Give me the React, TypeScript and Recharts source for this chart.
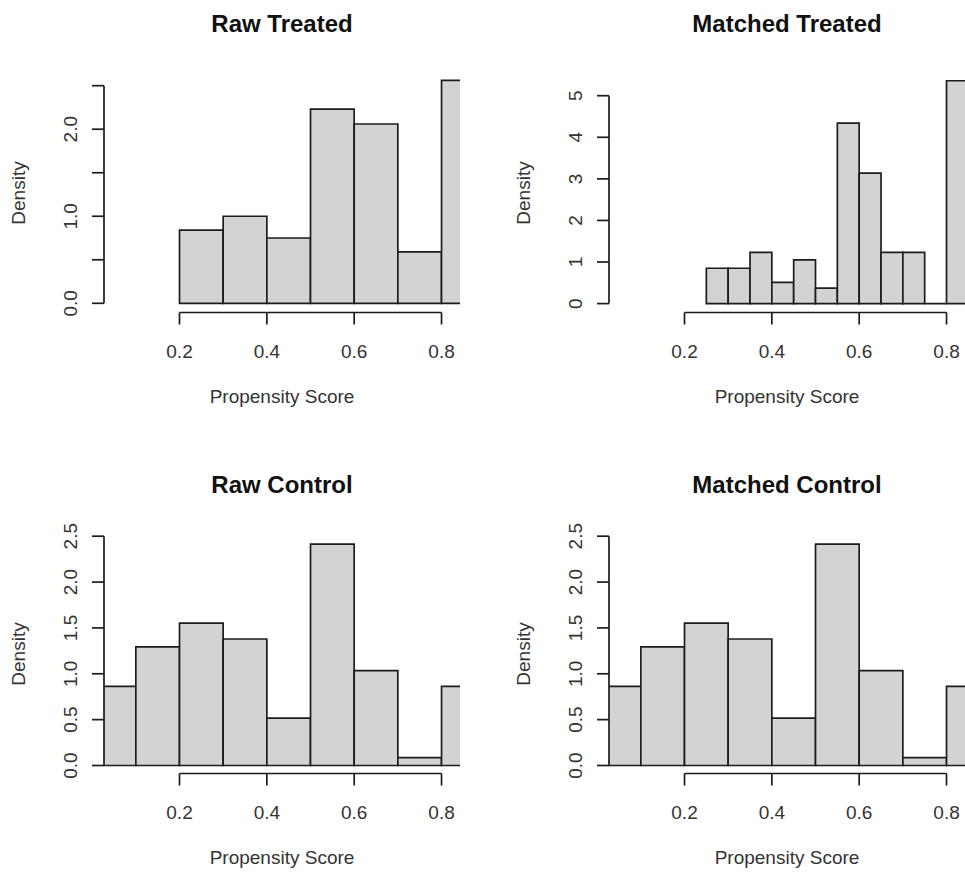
import React from 'react'
import { BarChart, Bar, XAxis, YAxis, ReferenceLine } from 'recharts'

// histogram breaks + densities
const treatedBreaks = [0.2, 0.3, 0.4, 0.5, 0.6, 0.7, 0.8, 0.9]
const rawTreatedDensity = [0.84, 1.0, 0.75, 2.23, 2.06, 0.59, 2.56]

const matchedTreatedBreaks = [0.25, 0.3, 0.35, 0.4, 0.45, 0.5, 0.55, 0.6, 0.65, 0.7, 0.75, 0.8, 0.85]
const matchedTreatedDensity = [0.85, 0.85, 1.23, 0.51, 1.05, 0.37, 4.34, 3.14, 1.23, 1.23, 0, 5.36]

const controlBreaks = [0, 0.1, 0.2, 0.3, 0.4, 0.5, 0.6, 0.7, 0.8, 0.9]
const rawControlDensity = [0.862, 1.293, 1.552, 1.379, 0.517, 2.414, 1.034, 0.086, 0.862]
const matchedControlDensity = [0.862, 1.293, 1.552, 1.379, 0.517, 2.414, 1.034, 0.086, 0.862]

const scoreTicks = [0.2, 0.4, 0.6, 0.8]
const scoreTickLabels = ['0.2', '0.4', '0.6', '0.8']
const densityTicks = [0, 0.5, 1, 1.5, 2, 2.5]
const rawTreatedLabels = ['0.0', '', '1.0', '', '2.0', '']
const controlLabels = ['0.0', '0.5', '1.0', '1.5', '2.0', '2.5']
const matchedTreatedTicks = [0, 1, 2, 3, 4, 5]
const matchedTreatedLabels = ['0', '1', '2', '3', '4', '5']

// layout (R-ish mfrow 2x2)
const W = 480
const H = 436
const Y_AXIS_W = 104
const RIGHT = 20
const PLOT_W = W - Y_AXIS_W - RIGHT
const PLOT_TOP = 73.5
const PLOT_H = 239
const X_AXIS_H = H - PLOT_TOP - PLOT_H
const X_DOMAIN: [number, number] = [0.0271, 0.8423]
const INK = '#1c1c1c'
const TXT = '#333'
const LW = 1.7
const FONT = '"Liberation Sans", Arial, Helvetica, sans-serif'

const HistRect = (p: any) => {
  const { x, y, width, height } = p
  const b = y + height
  return <path d={`M${x},${b}V${y}H${x + width}V${b}Z`} fill="#d3d3d3" stroke={INK} strokeWidth={LW} />
}

type HistProps = {
  title: string
  breaks: number[]
  density: number[]
  yDomain: [number, number]
  yTicks: number[]
  yLabels: string[]
  left: number
  top: number
}

function Hist({ title, breaks, density, yDomain, yTicks, yLabels, left, top }: HistProps) {
  const data = breaks.slice(0, -1).map((b, i) => ({ mid: (b + breaks[i + 1]) / 2, density: density[i] }))
  const binPx = (breaks[1] - breaks[0]) * PLOT_W / (X_DOMAIN[1] - X_DOMAIN[0])
  const cx = Y_AXIS_W + PLOT_W / 2
  const plotBottom = PLOT_TOP + PLOT_H

  const xTick = (p: any) => {
    const i = scoreTicks.indexOf(p.payload.value)
    return (
      <text x={p.x} y={p.y + 33} textAnchor="middle" fontSize={19} fill={TXT} fontFamily={FONT}>
        {scoreTickLabels[i]}
      </text>
    )
  }
  const yTick = (p: any) => {
    const i = yTicks.indexOf(p.payload.value)
    const bx = p.x - 15.2
    return (
      <text x={bx} y={p.y} transform={`rotate(-90 ${bx} ${p.y})`} textAnchor="middle" fontSize={19} fill={TXT} fontFamily={FONT}>
        {yLabels[i]}
      </text>
    )
  }

  return (
    <div style={{ position: 'absolute', left, top, width: W, height: H }}>
      <BarChart width={W} height={H} data={data} margin={{ top: PLOT_TOP, right: RIGHT, bottom: 0, left: 0 }} barCategoryGap={0} barGap={0}>
        <XAxis dataKey="mid" type="number" domain={X_DOMAIN} allowDataOverflow ticks={scoreTicks} interval={0}
          height={X_AXIS_H} axisLine={false} tickLine={{ stroke: INK, strokeWidth: LW }} tickSize={12} tickMargin={0} tick={xTick} />
        <YAxis type="number" domain={yDomain} allowDataOverflow ticks={yTicks} interval={0}
          width={Y_AXIS_W} axisLine={false} tickLine={{ stroke: INK, strokeWidth: LW }} tickSize={12} tickMargin={0} tick={yTick} />
        <Bar dataKey="density" barSize={binPx - 0.01} shape={HistRect} isAnimationActive={false} />
        <ReferenceLine segment={[{ x: X_DOMAIN[0], y: yTicks[0] }, { x: X_DOMAIN[0], y: yTicks[yTicks.length - 1] }]}
          stroke={INK} strokeWidth={LW} ifOverflow="visible" />
        <ReferenceLine segment={[{ x: scoreTicks[0], y: yDomain[0] }, { x: scoreTicks[scoreTicks.length - 1], y: yDomain[0] }]}
          stroke={INK} strokeWidth={LW} ifOverflow="visible" />
      </BarChart>
      <svg width={W} height={H} style={{ position: 'absolute', left: 0, top: 0, pointerEvents: 'none' }} fontFamily={FONT}>
        <text x={cx} y={PLOT_TOP - 42} textAnchor="middle" fontSize={24} fontWeight="bold" fill="#111">{title}</text>
        <text x={cx} y={plotBottom + 90} textAnchor="middle" fontSize={19} fill={TXT}>Propensity Score</text>
        <text x={24.8} y={PLOT_TOP + PLOT_H / 2} transform={`rotate(-90 24.8 ${PLOT_TOP + PLOT_H / 2})`} textAnchor="middle" fontSize={19} fill={TXT}>Density</text>
      </svg>
    </div>
  )
}

export default function App() {
  return (
    <div style={{ position: 'absolute', left: 0, top: 0, width: 965, height: 873, overflow: 'hidden', background: '#fff' }}>
      <Hist title="Raw Treated" breaks={treatedBreaks} density={rawTreatedDensity}
        yDomain={[-0.1057, 2.64]} yTicks={densityTicks} yLabels={rawTreatedLabels} left={0} top={0} />
      <Hist title="Matched Treated" breaks={matchedTreatedBreaks} density={matchedTreatedDensity}
        yDomain={[-0.214, 5.534]} yTicks={matchedTreatedTicks} yLabels={matchedTreatedLabels} left={504.5} top={0} />
      <Hist title="Raw Control" breaks={controlBreaks} density={rawControlDensity}
        yDomain={[-0.0872, 2.5185]} yTicks={densityTicks} yLabels={controlLabels} left={0} top={460.5} />
      <Hist title="Matched Control" breaks={controlBreaks} density={matchedControlDensity}
        yDomain={[-0.0872, 2.5185]} yTicks={densityTicks} yLabels={controlLabels} left={504.5} top={460.5} />
    </div>
  )
}
